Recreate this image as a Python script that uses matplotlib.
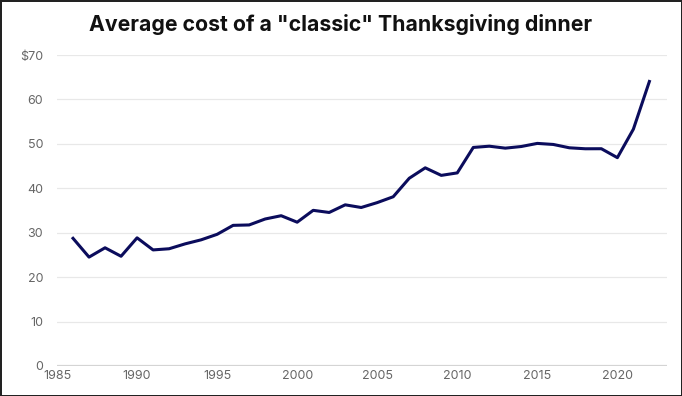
import matplotlib.pyplot as plt
import numpy as np

years = list(range(1986, 2023))
cost = [28.74, 24.51, 26.61, 24.70, 28.85, 26.13, 26.39, 27.49, 28.40, 29.64,
        31.66, 31.75, 33.09, 33.83, 32.37, 35.04, 34.56, 36.28, 35.68, 36.78,
        38.10, 42.26, 44.61, 42.91, 43.47, 49.20, 49.48, 49.04, 49.41, 50.11,
        49.87, 49.12, 48.90, 48.91, 46.90, 53.31, 64.05]

yticks = [0, 10, 20, 30, 40, 50, 60, 70]
ylabels = ["0", "10", "20", "30", "40", "50", "60", "$70"]
xticks = [1985, 1990, 1995, 2000, 2005, 2010, 2015, 2020]

plt.rcParams['font.family'] = ['Inter', 'DejaVu Sans']

fig = plt.figure(figsize=(6.82, 3.96), dpi=100)
fig.patch.set_edgecolor('#222222')
fig.patch.set_linewidth(2)
ax = fig.add_axes([0.0836, 0.0758, 0.8944, 0.7852])

ax.plot(years, cost, color='#0b0c5c', linewidth=2.2, solid_joinstyle='round')

ax.set_xlim(1985, 2023.1)
ax.set_ylim(0, 70)
ax.set_yticks(yticks)
ax.set_yticklabels(ylabels)
ax.set_xticks(xticks)
for y in yticks:
    if y == 0:
        ax.axhline(y, color='#d4d4d4', linewidth=1.6, zorder=0)
    else:
        ax.axhline(y, color='#e8e8e8', linewidth=0.9, zorder=0)
for s in ax.spines.values():
    s.set_visible(False)
ax.tick_params(length=0, labelsize=9, labelcolor='#666666')
ax.tick_params(axis='y', pad=10)
ax.tick_params(axis='x', pad=3)

fig.suptitle('Average cost of a "classic" Thanksgiving dinner', x=0.5, y=0.965,
             fontsize=15.3, fontweight='bold', color='#111111')

fig.savefig('out.png', dpi=100, edgecolor=fig.get_edgecolor())
